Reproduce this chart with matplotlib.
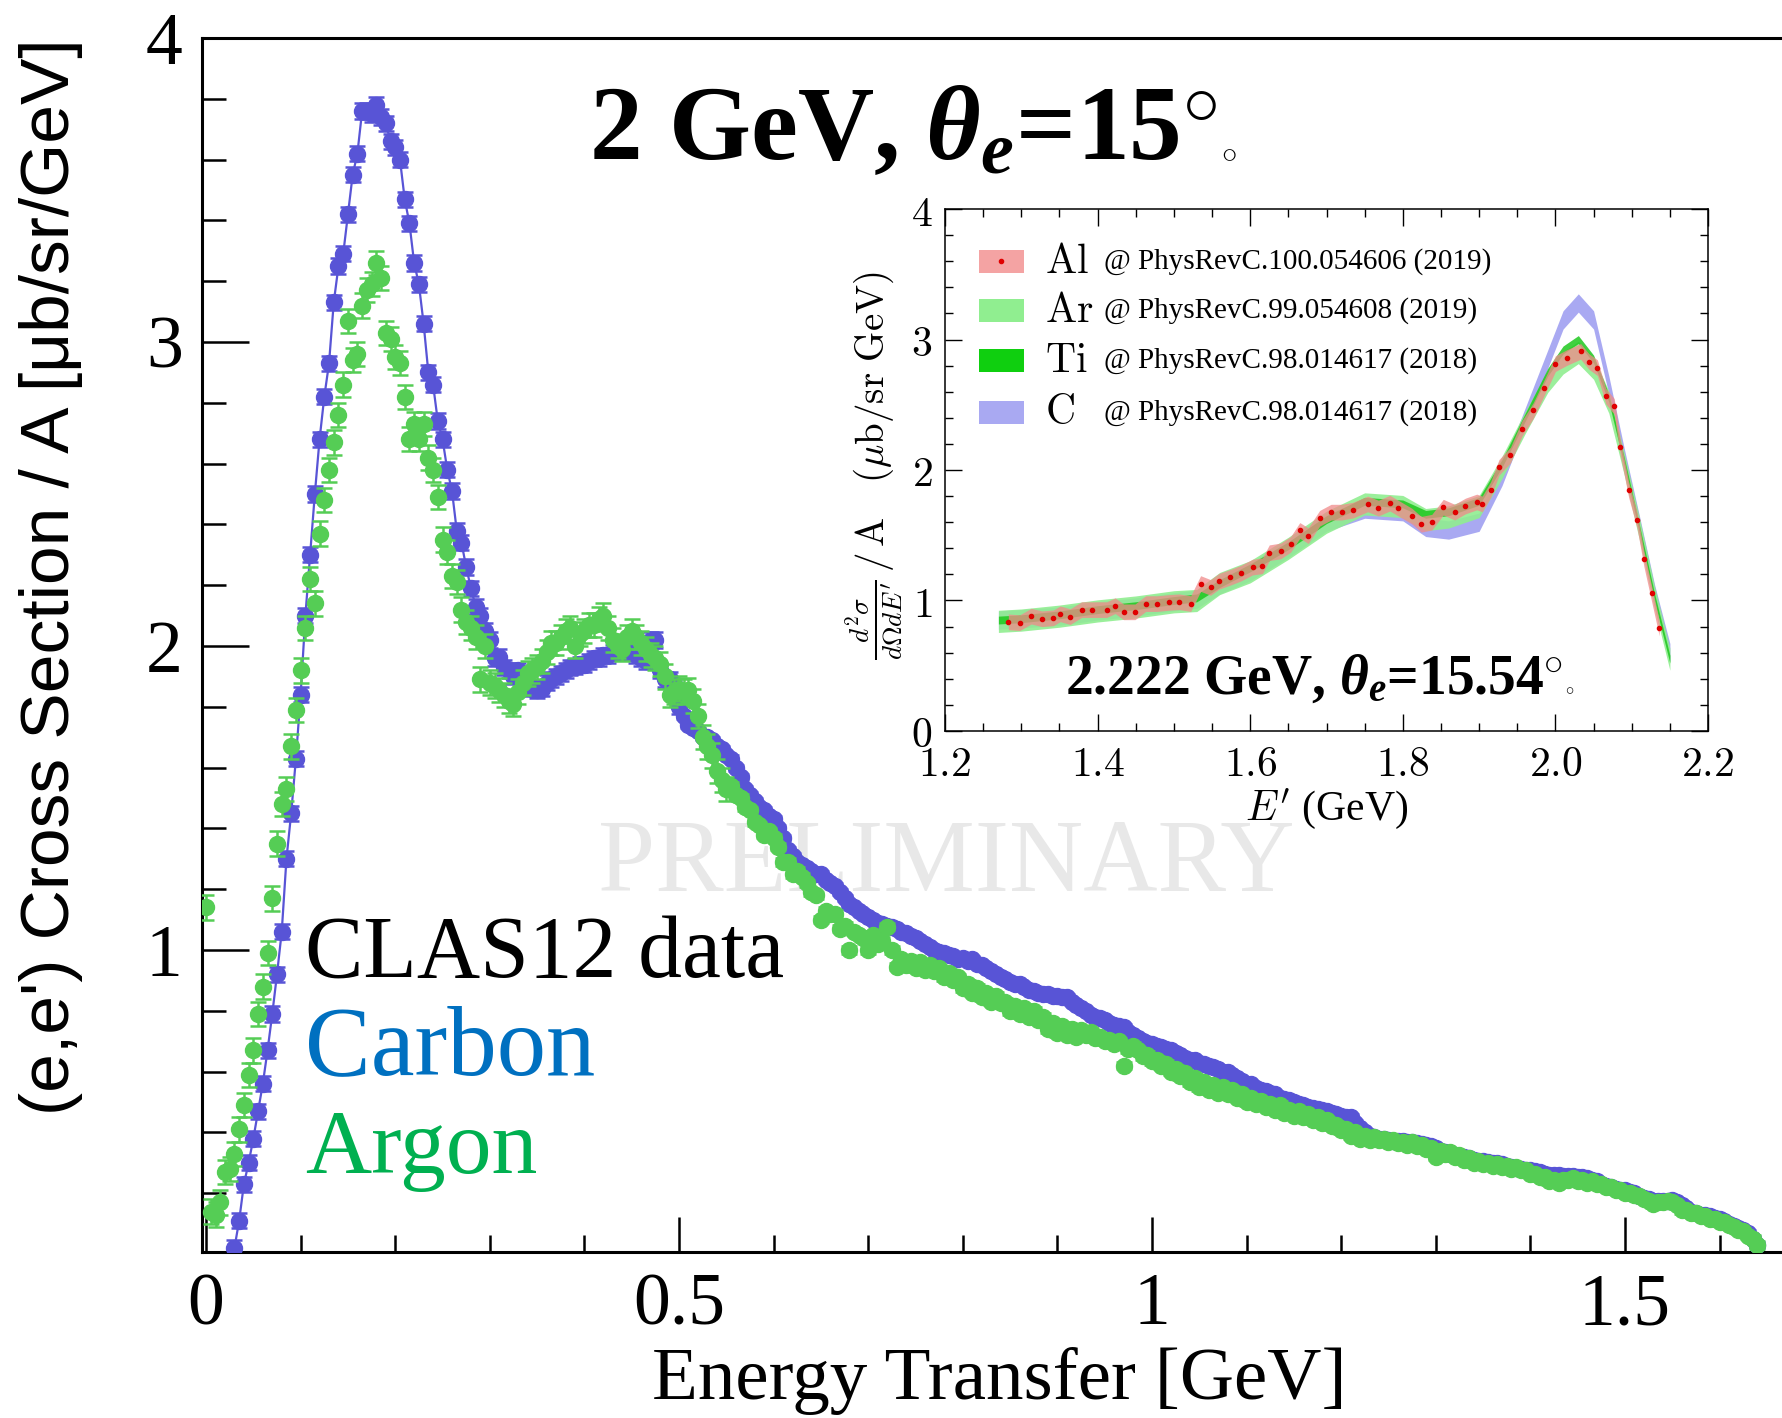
import numpy as np
import matplotlib.pyplot as plt
from matplotlib.ticker import MultipleLocator, FuncFormatter
from matplotlib.patches import Rectangle

plt.rcParams['mathtext.fontset'] = 'custom'
plt.rcParams['mathtext.rm'] = 'Liberation Serif:bold'
plt.rcParams['mathtext.it'] = 'Liberation Serif:italic:bold'
plt.rcParams['mathtext.bf'] = 'Liberation Serif:bold'

# ---- CLAS12 (e,e') data, energy transfer bins [GeV] ----
carbon_x_fine = np.round(np.arange(0.030, 0.5001, 0.005), 3)
carbon_y_fine = [
    0.02, 0.11, 0.23, 0.30, 0.38, 0.47, 0.56, 0.67, 0.79, 0.92,
    1.06, 1.30, 1.45, 1.63, 1.84, 2.10, 2.30, 2.50, 2.68, 2.82,
    2.93, 3.13, 3.25, 3.29, 3.42, 3.55, 3.62, 3.76, 3.76, 3.75,
    3.78, 3.74, 3.72, 3.66, 3.64, 3.60, 3.47, 3.39, 3.26, 3.19,
    3.06, 2.90, 2.86, 2.74, 2.68, 2.58, 2.51, 2.38, 2.34, 2.26,
    2.19, 2.13, 2.10, 2.05, 2.02, 1.96, 1.965,
    1.93, 1.92, 1.90, 1.92, 1.90, 1.88, 1.86, 1.855, 1.86, 1.88,
    1.89, 1.90, 1.91, 1.92, 1.93, 1.932, 1.94, 1.938, 1.95, 1.96,
    1.96, 1.97, 1.97, 1.98, 1.98, 1.985, 1.99, 1.98, 1.97, 1.96,
    1.95, 2.02, 2.02, 1.92, 1.89, 1.89, 1.86, 1.80]
# tail: bins on the 0.01 grid and the bins in between
carbon_x_tail = np.round(np.arange(0.51, 1.6401, 0.01), 2)
carbon_y_tail = [
    1.74, 1.72, 1.70, 1.67, 1.64, 1.60, 1.53, 1.49, 1.46, 1.43,
    1.37, 1.31, 1.28, 1.26, 1.25, 1.22, 1.19, 1.15, 1.13, 1.11,
    1.09, 1.08, 1.07, 1.055, 1.04, 1.02, 1.00, 0.99, 0.98, 0.975,
    0.97, 0.95, 0.93, 0.91, 0.895, 0.89, 0.87, 0.86, 0.857, 0.85,
    0.846, 0.82, 0.80, 0.78, 0.77, 0.755, 0.748, 0.72, 0.70, 0.69,
    0.68, 0.67, 0.655, 0.64, 0.63, 0.62, 0.61, 0.60, 0.58, 0.56,
    0.545, 0.535, 0.525, 0.51, 0.50, 0.49, 0.48, 0.474, 0.465, 0.455,
    0.452, 0.415, 0.39, 0.38, 0.375, 0.372, 0.37, 0.365, 0.36, 0.35,
    0.335, 0.325, 0.32, 0.31, 0.305, 0.30, 0.295, 0.285, 0.28, 0.275,
    0.27, 0.26, 0.26, 0.257, 0.255, 0.25, 0.24, 0.225, 0.215, 0.21,
    0.20, 0.185, 0.175, 0.175, 0.177, 0.16, 0.14, 0.13, 0.125, 0.115,
    0.10, 0.085, 0.07, 0.03]
carbon_x_mid = np.round(np.arange(0.505, 1.6351, 0.01), 3)
carbon_y_mid = [
    1.77, 1.73, 1.70, 1.69, 1.66, 1.63, 1.57, 1.51, 1.47, 1.44,
    1.40, 1.33, 1.29, 1.27, 1.25, 1.23, 1.21, 1.17, 1.14, 1.12,
    1.10, 1.085, 1.075, 1.06, 1.045, 1.03, 1.01, 0.995, 0.985, 0.97,
    0.965, 0.955, 0.94, 0.92, 0.905, 0.89, 0.88, 0.865, 0.855, 0.85,
    0.845, 0.83, 0.81, 0.785, 0.775, 0.76, 0.75, 0.73, 0.71, 0.695,
    0.685, 0.675, 0.66, 0.645, 0.638, 0.625, 0.615, 0.60, 0.59, 0.57,
    0.56, 0.54, 0.53, 0.515, 0.506, 0.495, 0.485, 0.477, 0.47, 0.46,
    0.45, 0.43, 0.40, 0.385, 0.378, 0.373, 0.371, 0.368, 0.362, 0.355,
    0.34, 0.33, 0.322, 0.315, 0.307, 0.302, 0.298, 0.29, 0.282, 0.277,
    0.272, 0.265, 0.26, 0.258, 0.256, 0.252, 0.245, 0.232, 0.22, 0.212,
    0.205, 0.19, 0.18, 0.175, 0.176, 0.17, 0.15, 0.135, 0.128, 0.12,
    0.108, 0.092, 0.078, 0.05]

argon_x_fine = np.round(np.arange(0.000, 0.5501, 0.005), 3)
argon_y_fine = [
    1.14, 0.14, 0.13, 0.17, 0.27, 0.28, 0.33, 0.41, 0.49, 0.59,
    0.67, 0.79, 0.88, 0.99, 1.17, 1.35, 1.48, 1.53, 1.67, 1.79,
    1.92, 2.06, 2.22, 2.14, 2.37, 2.48, 2.58, 2.67, 2.76, 2.86,
    3.07, 2.94, 2.96, 3.12, 3.17, 3.19, 3.26, 3.21, 3.03, 3.01,
    2.95, 2.93, 2.82, 2.68, 2.73, 2.68, 2.73, 2.62, 2.58, 2.49,
    2.35, 2.31, 2.23, 2.21, 2.12, 2.08, 2.06, 2.03, 1.89, 2.00,
    1.88, 1.87, 1.855, 1.84, 1.82, 1.81, 1.85, 1.88, 1.91, 1.92,
    1.93, 1.95, 1.98, 2.01, 2.01, 2.03, 2.05, 2.06, 2.00, 2.04,
    2.05, 2.07, 2.07, 2.09, 2.10, 2.06, 2.02, 2.00, 1.99, 2.03,
    2.05, 2.03, 2.01, 1.99, 1.97, 1.96, 1.94, 1.90, 1.84, 1.85,
    1.86, 1.85, 1.855, 1.82, 1.77, 1.70, 1.67, 1.64, 1.59, 1.56,
    1.53]
argon_x_tail = np.round(np.arange(0.56, 1.6401, 0.01), 2)
argon_y_tail = [
    1.51, 1.47, 1.42, 1.38, 1.37, 1.29, 1.25, 1.24, 1.19, 1.10,
    1.12, 1.07, 1.00, 1.05, 1.00, 1.02, 1.077, 0.945, 0.95, 0.94,
    0.935, 0.93, 0.91, 0.90, 0.875, 0.86, 0.846, 0.83, 0.825, 0.80,
    0.79, 0.78, 0.77, 0.74, 0.726, 0.72, 0.715, 0.72, 0.71, 0.70,
    0.69, 0.62, 0.685, 0.65, 0.635, 0.62, 0.60, 0.585, 0.565, 0.55,
    0.54, 0.53, 0.525, 0.515, 0.50, 0.495, 0.485, 0.475, 0.465, 0.455,
    0.45, 0.44, 0.43, 0.42, 0.408, 0.39, 0.38, 0.375, 0.375, 0.37,
    0.365, 0.36, 0.355, 0.345, 0.32, 0.33, 0.32, 0.31, 0.30, 0.295,
    0.29, 0.285, 0.28, 0.275, 0.265, 0.255, 0.24, 0.235, 0.245, 0.24,
    0.235, 0.23, 0.22, 0.21, 0.20, 0.195, 0.18, 0.165, 0.17, 0.17,
    0.145, 0.135, 0.125, 0.115, 0.105, 0.095, 0.08, 0.06, 0.03]
argon_x_mid = np.round(np.arange(0.555, 1.6351, 0.01), 3)
argon_y_mid = [
    1.54, 1.50, 1.46, 1.41, 1.39, 1.34, 1.29, 1.26, 1.22, 1.18,
    1.13, 1.12, 1.08, 1.06, 1.04, 1.05, 1.03, 1.00, 0.97, 0.965,
    0.96, 0.95, 0.94, 0.925, 0.91, 0.89, 0.875, 0.86, 0.85, 0.83,
    0.815, 0.81, 0.80, 0.78, 0.76, 0.75, 0.74, 0.737, 0.73, 0.715,
    0.705, 0.70, 0.675, 0.67, 0.655, 0.64, 0.625, 0.61, 0.595, 0.58,
    0.565, 0.555, 0.55, 0.54, 0.525, 0.515, 0.505, 0.495, 0.49, 0.475,
    0.47, 0.46, 0.45, 0.44, 0.425, 0.41, 0.40, 0.39, 0.385, 0.38,
    0.375, 0.37, 0.37, 0.36, 0.35, 0.34, 0.335, 0.325, 0.315, 0.305,
    0.30, 0.295, 0.29, 0.285, 0.275, 0.265, 0.255, 0.245, 0.245, 0.25,
    0.245, 0.24, 0.23, 0.22, 0.21, 0.20, 0.19, 0.175, 0.172, 0.175,
    0.16, 0.145, 0.135, 0.125, 0.115, 0.105, 0.09, 0.075, 0.05]

carbon_err_fine, carbon_err_tail = 0.025, 0.01
argon_err_fine, argon_err_tail = 0.04, 0.012

# ---- inset: previous JLab Hall A data at 2.222 GeV, 15.54 deg ----
al_e = [1.283, 1.298, 1.313, 1.327, 1.342, 1.351, 1.364, 1.379, 1.393, 1.412,
        1.423, 1.434, 1.449, 1.463, 1.478, 1.493, 1.507, 1.522, 1.535, 1.548,
        1.559, 1.574, 1.588, 1.603, 1.616, 1.625, 1.640, 1.653, 1.665, 1.676,
        1.691, 1.706, 1.720, 1.735, 1.754, 1.768, 1.783, 1.794, 1.812, 1.824,
        1.838, 1.853, 1.868, 1.882, 1.897, 1.904, 1.915, 1.926, 1.941, 1.956,
        1.971, 1.985, 2.000, 2.015, 2.033, 2.044, 2.055, 2.066, 2.077, 2.085,
        2.096, 2.107, 2.116, 2.126, 2.136]
al_y = [0.836, 0.83, 0.88, 0.86, 0.867, 0.898, 0.876, 0.93, 0.93, 0.93,
        0.96, 0.913, 0.913, 0.976, 0.976, 0.985, 0.99, 0.976, 1.13, 1.10,
        1.147, 1.178, 1.21, 1.256, 1.266, 1.366, 1.38, 1.43, 1.537, 1.497,
        1.63, 1.677, 1.677, 1.693, 1.74, 1.708, 1.746, 1.708, 1.646, 1.584,
        1.6, 1.715, 1.677, 1.724, 1.755, 1.74, 1.849, 2.02, 2.114, 2.316,
        2.457, 2.628, 2.815, 2.862, 2.909, 2.831, 2.784, 2.566, 2.488, 2.176,
        1.849, 1.615, 1.319, 1.054, 0.789]
al_width = 0.06

inset_e = [1.27, 1.30, 1.35, 1.40, 1.45, 1.50, 1.53, 1.56, 1.60, 1.65,
           1.70, 1.75, 1.80, 1.83, 1.86, 1.90, 1.93, 1.96, 1.99, 2.01,
           2.03, 2.05, 2.07, 2.09, 2.11, 2.13, 2.15]
ar_mid = [0.84, 0.85, 0.88, 0.92, 0.95, 0.99, 1.00, 1.13, 1.22, 1.40,
          1.60, 1.74, 1.72, 1.62, 1.64, 1.72, 2.02, 2.36, 2.68, 2.82,
          2.90, 2.78, 2.52, 2.05, 1.55, 1.02, 0.55]
ti_mid = [0.85, 0.86, 0.89, 0.93, 0.96, 1.00, 1.02, 1.13, 1.25, 1.42,
          1.62, 1.76, 1.74, 1.66, 1.68, 1.76, 2.05, 2.40, 2.75, 2.92,
          3.00, 2.85, 2.55, 2.07, 1.55, 1.02, 0.55]
c_mid = [0.85, 0.86, 0.88, 0.92, 0.95, 0.99, 1.01, 1.12, 1.22, 1.40,
         1.60, 1.70, 1.68, 1.56, 1.54, 1.60, 1.95, 2.40, 2.85, 3.15,
         3.28, 3.15, 2.65, 2.10, 1.58, 1.05, 0.60]
ar_width = 0.085
ti_width = 0.03
c_width = 0.07

legend_targets = ['Al', 'Ar', 'Ti', 'C']
legend_refs = ['@ PhysRevC.100.054606 (2019)', '@ PhysRevC.99.054608 (2019)',
               '@ PhysRevC.98.014617 (2018)', '@ PhysRevC.98.014617 (2018)']

blue = '#5854d6'
green = '#55cd55'
serif = 'Liberation Serif'


def merge(xs, ys, errs):
    x = np.concatenate(xs)
    y = np.concatenate([np.asarray(v, float) for v in ys])
    e = np.concatenate([np.full(len(v), err) for v, err in zip(xs, errs)])
    order = np.argsort(x, kind='stable')
    return x[order], y[order], e[order]


fig = plt.figure(figsize=(17.82, 14.18), dpi=100)
ax = fig.add_axes([0.1134, 0.1171, 0.8866, 0.8561])

cx, cy, ce = merge([carbon_x_fine, carbon_x_tail, carbon_x_mid],
                   [carbon_y_fine, carbon_y_tail, carbon_y_mid],
                   [carbon_err_fine, carbon_err_tail, carbon_err_tail])
gx, gy, ge = merge([argon_x_fine, argon_x_tail, argon_x_mid],
                   [argon_y_fine, argon_y_tail, argon_y_mid],
                   [argon_err_fine, argon_err_tail, argon_err_tail])

ax.errorbar(cx, cy, yerr=ce, fmt='-o', color=blue, ms=11.5, lw=1.6,
            elinewidth=1.8, capsize=6, capthick=1.8, zorder=3)
ax.errorbar(gx, gy, yerr=ge, fmt='o', color=green, ms=11.5,
            elinewidth=1.8, capsize=6, capthick=1.8, zorder=4)

ax.set_xlim(-0.0042, 1.666)
ax.set_ylim(0.007, 4.0)
ax.spines['right'].set_visible(False)
for s in ['left', 'bottom', 'top']:
    ax.spines[s].set_linewidth(2.2)
ax.xaxis.set_major_locator(MultipleLocator(0.5))
ax.xaxis.set_minor_locator(MultipleLocator(0.1))
ax.yaxis.set_major_locator(MultipleLocator(1))
ax.yaxis.set_minor_locator(MultipleLocator(0.2))
ax.xaxis.set_major_formatter(FuncFormatter(lambda v, p: '%g' % v))
ax.yaxis.set_major_formatter(FuncFormatter(lambda v, p: '%g' % v))
ax.tick_params(axis='both', which='both', direction='in', width=1.8, top=False, right=False)
ax.tick_params(axis='y', which='major', length=34, pad=14)
ax.tick_params(axis='y', which='minor', length=17)
ax.tick_params(axis='x', which='major', length=25, pad=15)
ax.tick_params(axis='x', which='minor', length=12.5)
for lab in ax.get_xticklabels() + ax.get_yticklabels():
    lab.set_fontfamily(serif)
    lab.set_fontsize(53)

ax.text(0.531, 0.389, 'PRELIMINARY', transform=fig.transFigure, fontsize=74,
        family=serif, color='#e8e8e8', ha='center', va='center', zorder=0)

fig.text(0.0286, 0.593, "(e,e') Cross Section / A [\u03bcb/sr/GeV]", rotation=90,
         fontsize=50, family='Liberation Sans', ha='center', va='center')
fig.text(0.561, 0.026, 'Energy Transfer [GeV]', fontsize=54, family=serif,
         ha='center', va='center')

title = ax.text(0.3305, 0.8879, r'2 GeV, $\theta_e$=15$^{\circ}$', transform=fig.transFigure,
                fontsize=76, family=serif, weight='bold', ha='left', va='baseline')
ax.annotate(r'$\circ$', xy=(1, 0.22), xycoords=title, xytext=(3, 0),
            textcoords='offset points', fontsize=22, ha='left', va='baseline')
ax.text(0.1712, 0.311, 'CLAS12 data', transform=fig.transFigure, fontsize=63,
        family=serif, color='black', ha='left', va='baseline')
ax.text(0.1712, 0.2426, 'Carbon', transform=fig.transFigure, fontsize=71,
        family=serif, color='#0070c0', ha='left', va='baseline')
ax.text(0.1712, 0.1728, 'Argon', transform=fig.transFigure, fontsize=66,
        family=serif, color='#00b050', ha='left', va='baseline')

# ---- inset ----
ins = fig.add_axes([0.5303, 0.4845, 0.4282, 0.3681], zorder=5)
e = np.array(inset_e)
ins.fill_between(e, np.array(c_mid) - c_width, np.array(c_mid) + c_width,
                 color='#a9a9f2', lw=0)
ins.fill_between(e, np.array(ar_mid) - ar_width, np.array(ar_mid) + ar_width,
                 color='#90ee90', lw=0, alpha=0.9)
ins.fill_between(e, np.array(ti_mid) - ti_width, np.array(ti_mid) + ti_width,
                 color='#1ec81e', lw=0, alpha=0.85)
ins.fill_between(al_e, np.array(al_y) - al_width, np.array(al_y) + al_width,
                 color='#f08a8a', lw=0, alpha=0.75)
ins.plot(al_e, al_y, 'o', color='#e00000', ms=3)

ins.set_xlim(1.2, 2.2)
ins.set_ylim(0, 4)
ins.xaxis.set_major_locator(MultipleLocator(0.2))
ins.xaxis.set_minor_locator(MultipleLocator(0.05))
ins.yaxis.set_major_locator(MultipleLocator(1))
ins.yaxis.set_minor_locator(MultipleLocator(0.2))
ins.xaxis.set_major_formatter(FuncFormatter(lambda v, p: '$%.1f$' % v))
ins.yaxis.set_major_formatter(FuncFormatter(lambda v, p: '$%d$' % round(v)))
ins.tick_params(axis='both', which='both', direction='in', top=True, right=True, width=1)
ins.tick_params(which='major', length=12, pad=9)
ins.tick_params(which='minor', length=6)
for lab in ins.get_xticklabels() + ins.get_yticklabels():
    lab.set_fontsize(30)
    lab.set_math_fontfamily('cm')
for s in ins.spines.values():
    s.set_linewidth(1.1)

row_y = [0.90, 0.806, 0.71, 0.611]
patch_cols = ['#f4a3a3', '#90ee90', '#0fcf0f', '#a9a9f2']
for yy, col, tgt, ref in zip(row_y, patch_cols, legend_targets, legend_refs):
    ins.add_patch(Rectangle((0.0445, yy - 0.022), 0.059, 0.044, transform=ins.transAxes,
                            color=col, lw=0))
    ins.text(0.131, yy, '$\\mathrm{%s}$' % tgt, transform=ins.transAxes, fontsize=30,
             math_fontfamily='cm', ha='left', va='center')
    ins.text(0.208, yy, ref, transform=ins.transAxes, fontsize=21, family=serif,
             ha='left', va='center')
ins.plot([0.074], [row_y[0]], 'o', color='#e00000', ms=3, transform=ins.transAxes)

sub = ins.text(0.157, 0.071, r'2.222 GeV, $\theta_e$=15.54$^{\circ}$', transform=ins.transAxes,
               fontsize=40, family=serif, weight='bold', ha='left', va='baseline')
ins.annotate(r'$\circ$', xy=(1, 0.22), xycoords=sub, xytext=(2, 0),
             textcoords='offset points', fontsize=12, ha='left', va='baseline')

fig.text(0.7447, 0.4295, r"$E'$ (GeV)", fontsize=30, math_fontfamily='cm',
         family=serif, ha='center', va='center')
fig.text(0.491, 0.6714, r"$\frac{d^2\sigma}{d\Omega dE'}\,/\,\mathrm{A}\quad(\mu\mathrm{b/sr\ GeV})$",
         rotation=90, fontsize=28, math_fontfamily='cm', ha='center', va='center')

fig.savefig('out.png', dpi=100)
